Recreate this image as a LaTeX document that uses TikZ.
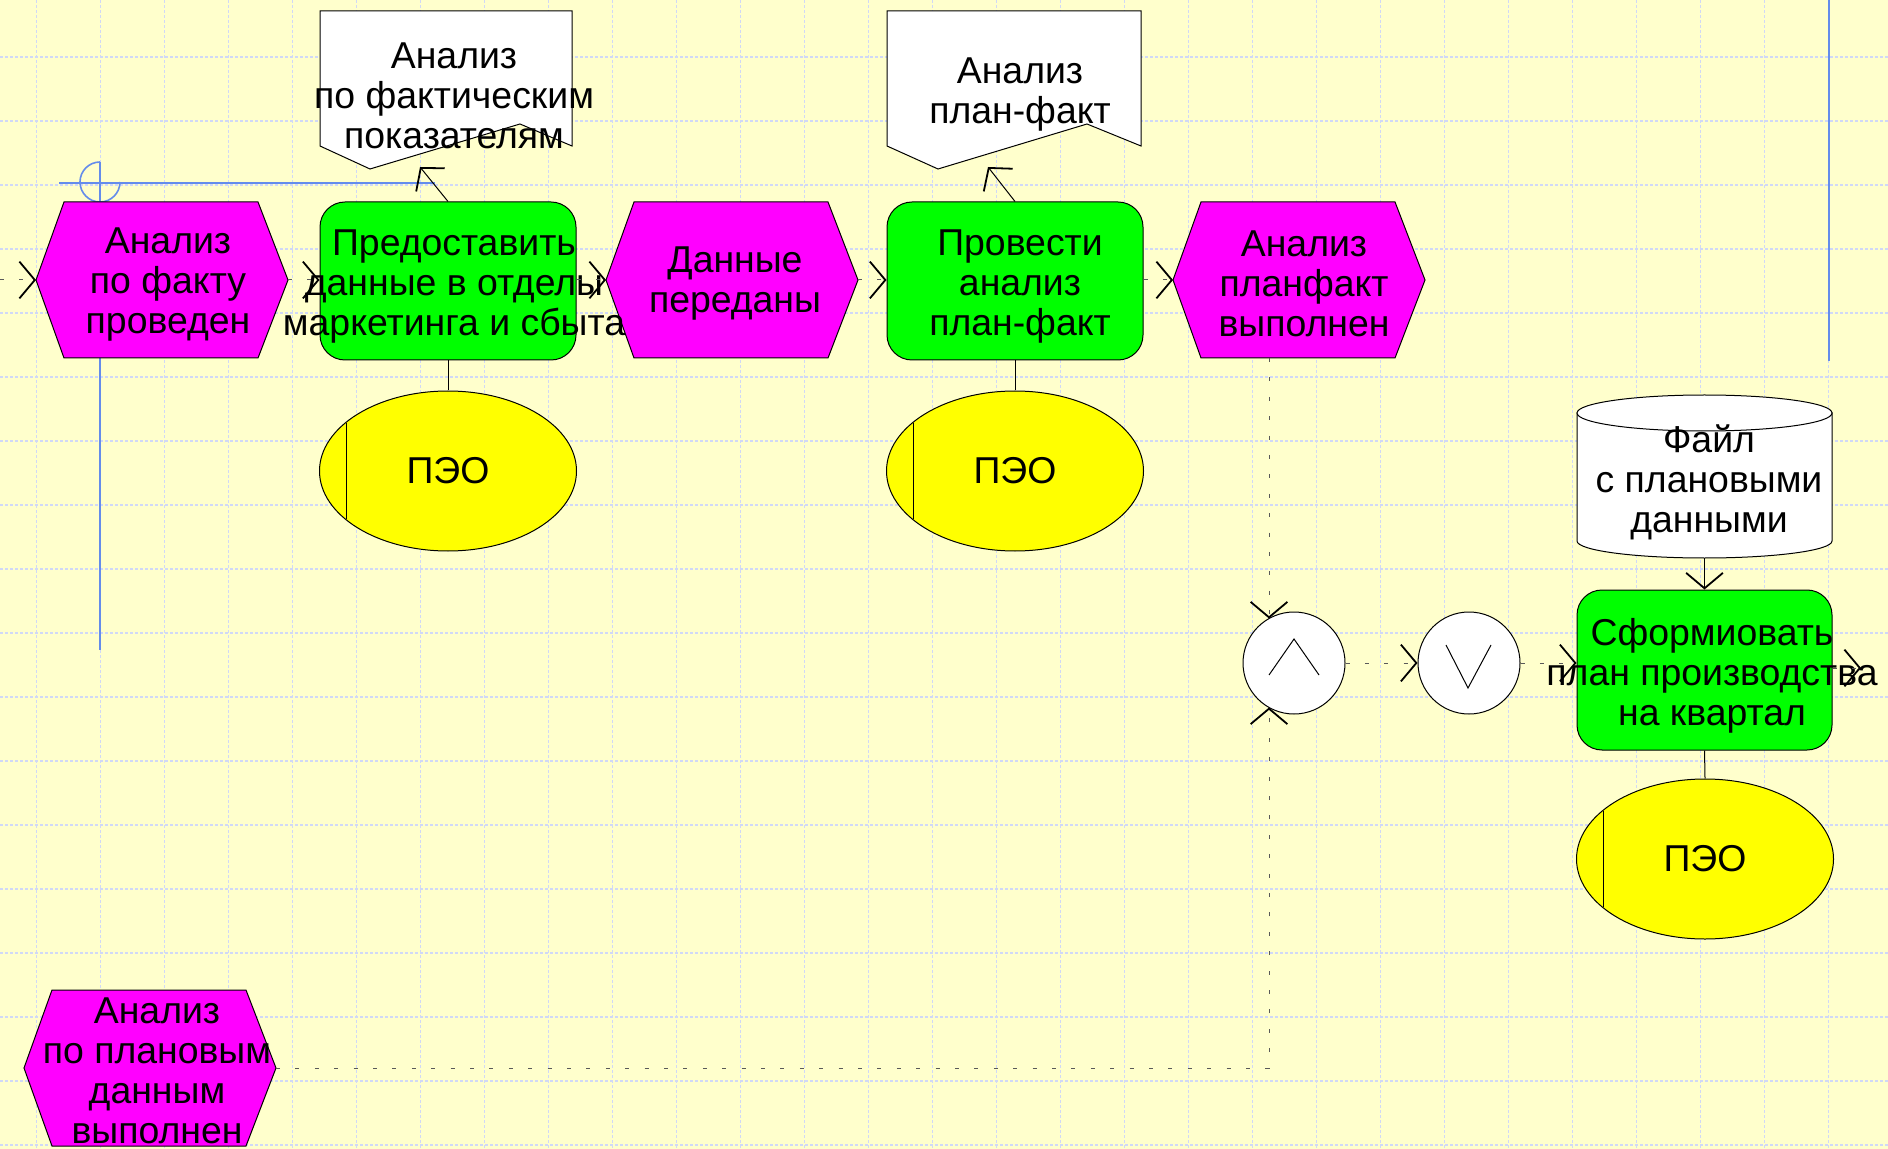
\documentclass[tikz,border=0pt]{standalone}
\usepackage{fontspec}
\setmainfont{Liberation Sans}
\usetikzlibrary{arrows.meta,shapes.geometric}
\definecolor{bg}{RGB}{255,255,204}
\definecolor{gridc}{RGB}{208,216,246}
\definecolor{bluel}{RGB}{100,140,235}
\definecolor{evc}{RGB}{255,0,255}
\definecolor{fnc}{RGB}{0,255,0}
\definecolor{orgc}{RGB}{255,255,0}
\tikzset{
 every node/.style={inner sep=0pt},
 txt/.style={align=center, font=\fontsize{18.7}{20}\selectfont},
 evt/.style={draw=black, fill=evc, line width=0.5pt},
 fnbox/.style={draw=black, fill=fnc, line width=0.5pt, rounded corners=12.5pt, rectangle, minimum width=128pt, minimum height=79pt},
 docu/.style={draw=black, fill=white, line width=0.5pt},
 org/.style={draw=black, fill=orgc, ellipse, line width=0.5pt, minimum width=128.5pt, minimum height=80pt, font=\fontsize{18.7}{20}\selectfont},
 opc/.style={draw=black, fill=white, circle, line width=0.5pt, minimum size=51pt},
 barbtip/.style={-{Straight Barb[angle=100:12pt, line width=0.9pt, color=black]}},
 flow/.style={draw=black!65, line width=0.5pt, dash pattern=on 2pt off 7.7pt, barbtip},
 assoc/.style={draw=black, line width=0.5pt},
 gridl/.style={draw=gridc, line width=0.6pt, dash pattern=on 1.5pt off 1pt},
 bluestyle/.style={draw=bluel, line width=0.8pt},
}
\newcommand\hexev[3]{%
 \draw[evt] (#2,#3+78) -- (#2+28,#3) -- (#2+222,#3) -- (#2+252,#3+78) -- (#2+222,#3+156) -- (#2+28,#3+156) -- cycle;
 \coordinate (#1l) at (#2,#3+78);
 \coordinate (#1r) at (#2+252,#3+78);}
\begin{document}
\begin{tikzpicture}[x=0.5pt,y=-0.5pt]
\fill[bg] (0,0) rectangle (1888,1149);
\useasboundingbox (0,0) rectangle (1888,1149);
\foreach \i in {0,...,28} \draw[gridl] ({36.7+64*\i},0) -- ({36.7+64*\i},1149);
\foreach \j in {0,...,17} \draw[gridl] (0,{57+64*\j}) -- (1888,{57+64*\j});
% blue lines
\draw[bluestyle] (59,183) -- (435,183);
\draw[bluestyle] (100,162) -- (100,202);
\draw[bluestyle] (100,162) arc[start angle=270, end angle=90, radius=20];
\draw[bluestyle] (120,182) arc[start angle=0, end angle=90, radius=20];
\draw[bluestyle] (100,358) -- (100,650);
\draw[bluestyle] (1829,0) -- (1829,361);
% documents
\draw[docu] (320,11) -- (572,11) -- (572,146) -- (520,124) -- (370,169) -- (320,146) -- cycle;
\node[txt] (d1t) at (454,96) {Анализ\\по фактическим\\показателям};
\draw[docu] (887,11) -- (1141,11) -- (1141,146) -- (1087,124) -- (938,169) -- (887,146) -- cycle;
\node[txt] (d2t) at (1020,95) {Анализ\\план-факт};
% events
\hexev{e1}{36}{202}
\node[txt] (e1t) at (168,285) {Анализ\\по факту\\проведен};
\hexev{e2}{606}{202}
\node[txt] (e2t) at (735,284) {Данные\\переданы};
\hexev{e3}{1173}{202}
\node[txt] (e3t) at (1304,284) {Анализ\\планфакт\\выполнен};
\hexev{e4}{24}{990}
\node[txt] (e4t) at (157,1071) {Анализ\\по плановым\\данным\\выполнен};
% functions
\node[fnbox] (f1) at (448,281) {};
\node[txt] (f1t) at (454,287) {Предоставить\\данные в отделы\\маркетинга и сбыта};
\node[fnbox] (f2) at (1015,281) {};
\node[txt] (f2t) at (1020,287) {Провести\\анализ\\план-факт};
\node[fnbox, minimum width=127.5pt, minimum height=80pt] (f3) at (1704.5,670) {};
\node[txt] (f3t) at (1712,676) {Сформиовать\\план производства\\на квартал};
% org units
\node[org] (o1) at (448,471) {ПЭО};
\draw[assoc] (346,423) -- (346,519);
\node[org] (o2) at (1015,471) {ПЭО};
\draw[assoc] (913,423) -- (913,519);
\node[org] (o3) at (1705,859) {ПЭО};
\draw[assoc] (1603,811) -- (1603,907);
% database
\draw[docu] (1577,413) -- (1577,541) arc[start angle=180, end angle=0, x radius=127.5, y radius=17] -- (1832,413) -- cycle;
\draw[docu] (1704.5,413) ellipse [x radius=127.5, y radius=18];
\node[txt] (cyt) at (1709,482) {Файл\\с плановыми\\данными};
\coordinate (cyb) at (1704.5,558);
% operators
\node[opc] (and) at (1294,663) {};
\draw[assoc] (1269,675) -- (1294,639) -- (1319,675);
\node[opc] (or) at (1469,663) {};
\draw[assoc] (1446,645) -- (1468,688) -- (1491,645);
% connectors
\coordinate (w0) at (0,280);
\draw[flow] (w0) -- (e1l);
\draw[flow] (e1r) -- (e1r -| f1.west);
\draw[flow] (f1.east |- e2l) -- (e2l);
\draw[flow] (e2r) -- (e2r -| f2.west);
\draw[flow] (f2.east |- e3l) -- (e3l);
\coordinate (e3b) at (1269,358);
\coordinate (andn) at (1269,618.5);
\coordinate (ands) at (1269,707.5);
\coordinate (e4c) at (1269,1068);
\draw[flow] (e3b) -- (andn);
\draw[flow] (e4r) -- (e4c) -- (ands);
\draw[flow] (and.east) -- (or.west);
\draw[flow] (or.east) -- (or.east -| f3.west);
\coordinate (f3out) at (1861,668);
\draw[flow] (f3.east |- f3out) -- (f3out);
\coordinate (d1a) at (420,167);
\coordinate (d2a) at (988,167);
\draw[assoc, barbtip] (f1.north) -- (d1a);
\draw[assoc, barbtip] (f2.north) -- (d2a);
\draw[assoc] (f1.south) -- (o1.north);
\draw[assoc] (f2.south) -- (o2.north);
\draw[assoc] (f3.south) -- (o3.north);
\draw[assoc, barbtip] (cyb) -- (f3.north);
\end{tikzpicture}
\end{document}
